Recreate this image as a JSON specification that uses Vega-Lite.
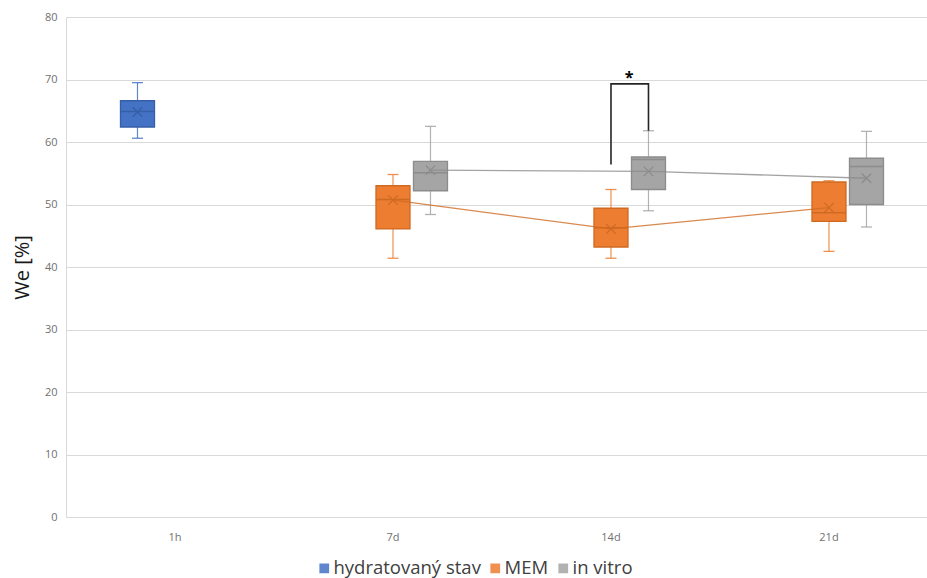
{
  "$schema": "https://vega.github.io/schema/vega-lite/v6.json",
  "width": 861,
  "height": 500,
  "autosize": {"type": "none"},
  "padding": {"left": 66, "top": 17, "right": 0, "bottom": 61},
  "background": "white",
  "config": {
    "font": "Open Sans",
    "view": {"stroke": null},
    "axis": {"ticks": false, "domainColor": "#d9d9d9", "gridColor": "#d9d9d9", "labelColor": "#707070", "labelFontSize": 11}
  },
  "datasets": {
    "boxes": [
      {"cat": "1h", "series": "hydratovaný stav", "min": 60.6, "q1": 62.4, "median": 64.9, "q3": 66.6, "max": 69.5, "mean": 64.8},
      {"cat": "7d", "series": "MEM", "min": 41.4, "q1": 46.1, "median": 50.8, "q3": 53.0, "max": 54.8, "mean": 50.7},
      {"cat": "7d", "series": "in vitro", "min": 48.4, "q1": 52.2, "median": 55.1, "q3": 56.9, "max": 62.5, "mean": 55.5},
      {"cat": "14d", "series": "MEM", "min": 41.4, "q1": 43.2, "median": 46.3, "q3": 49.4, "max": 52.4, "mean": 46.1},
      {"cat": "14d", "series": "in vitro", "min": 49.0, "q1": 52.4, "median": 57.2, "q3": 57.6, "max": 61.8, "mean": 55.3},
      {"cat": "21d", "series": "MEM", "min": 42.5, "q1": 47.3, "median": 48.7, "q3": 53.6, "max": 53.8, "mean": 49.5},
      {"cat": "21d", "series": "in vitro", "min": 46.4, "q1": 50.0, "median": 56.1, "q3": 57.4, "max": 61.7, "mean": 54.2}
    ],
    "bracket": [
      {"cat": "14d", "series": "MEM", "v": 56.4, "step": 1},
      {"cat": "14d", "series": "MEM", "v": 69.3, "step": 2},
      {"cat": "14d", "series": "in vitro", "v": 69.3, "step": 3},
      {"cat": "14d", "series": "in vitro", "v": 61.8, "step": 4}
    ],
    "star": [
      {"cat": "14d", "series": "MEM", "v": 70.3, "label": "*"}
    ]
  },
  "encoding": {
    "x": {
      "field": "cat", "type": "nominal",
      "scale": {"domain": ["1h", "7d", "14d", "21d"], "paddingInner": 0.5, "paddingOuter": 0.22477, "align": 0.556, "round": false},
      "axis": {"title": null, "labelAngle": 0, "labelPadding": 14, "labelColor": "#707070", "domain": true, "grid": false}
    },
    "xOffset": {
      "field": "series", "type": "nominal",
      "scale": {"domain": ["hydratovaný stav", "MEM", "in vitro"], "paddingInner": 0.093, "paddingOuter": 0}
    }
  },
  "layer": [
    {
      "data": {"name": "boxes"},
      "mark": {"type": "rule", "strokeWidth": 1.2, "opacity": 0.85},
      "encoding": {
        "y": {
          "field": "min", "type": "quantitative",
          "scale": {"domain": [0, 80]},
          "axis": {"title": "We [%]", "values": [0, 10, 20, 30, 40, 50, 60, 70, 80], "labelPadding": 9, "labelColor": "#707070", "titleFontSize": 20, "titleFontWeight": "normal", "titleColor": "#1a1a1a", "titlePadding": 12, "domain": true}
        },
        "y2": {"field": "max"},
        "color": {"field": "series", "type": "nominal"}
      }
    },
    {
      "data": {"name": "boxes"},
      "mark": {"type": "tick", "size": 11, "thickness": 1.3, "opacity": 0.85},
      "encoding": {
        "y": {"field": "max", "type": "quantitative"},
        "color": {"field": "series", "type": "nominal"}
      }
    },
    {
      "data": {"name": "boxes"},
      "mark": {"type": "tick", "size": 11, "thickness": 1.3, "opacity": 0.85},
      "encoding": {
        "y": {"field": "min", "type": "quantitative"},
        "color": {"field": "series", "type": "nominal"}
      }
    },
    {
      "data": {"name": "boxes"},
      "mark": {"type": "bar", "strokeWidth": 1.3},
      "encoding": {
        "y": {"field": "q1", "type": "quantitative"},
        "y2": {"field": "q3"},
        "color": {
          "field": "series", "type": "nominal",
          "scale": {"domain": ["hydratovaný stav", "MEM", "in vitro"], "range": ["#4472c4", "#ed7d31", "#a5a5a5"]},
          "legend": {
            "title": null, "orient": "none", "direction": "horizontal",
            "legendX": 249, "legendY": 542, "padding": 0,
            "symbolType": "square", "symbolSize": 95, "symbolStrokeWidth": 0, "symbolOpacity": 1,
            "labelFontSize": 18.5, "labelColor": "#404040", "labelOffset": 0,
            "columnPadding": 5, "labelLimit": 300
          }
        },
        "stroke": {"field": "series", "type": "nominal", "scale": {"domain": ["in vitro", "MEM", "hydratovaný stav"], "range": ["#8c8c8c", "#cf6a22", "#365fa8"]}, "legend": null}
      }
    },
    {
      "data": {"name": "boxes"},
      "mark": {"type": "bar", "strokeWidth": 1.5, "fillOpacity": 0},
      "encoding": {
        "y": {"field": "median", "type": "quantitative"},
        "y2": {"field": "median"},
        "stroke": {"field": "series", "type": "nominal", "legend": null}
      }
    },
    {
      "data": {"name": "boxes"},
      "transform": [{"filter": "datum.series !== 'hydratovaný stav'"}],
      "mark": {"type": "line", "strokeWidth": 1.3, "opacity": 0.8},
      "encoding": {
        "y": {"field": "mean", "type": "quantitative"},
        "stroke": {"field": "series", "type": "nominal", "legend": null}
      }
    },
    {
      "data": {"name": "boxes"},
      "mark": {"type": "point", "shape": "M-1,-1L1,1M-1,1L1,-1", "size": 90, "strokeWidth": 1.3, "filled": false, "opacity": 1},
      "encoding": {
        "y": {"field": "mean", "type": "quantitative"},
        "stroke": {"field": "series", "type": "nominal", "legend": null}
      }
    },
    {
      "data": {"name": "bracket"},
      "mark": {"type": "line", "color": "#262626", "strokeWidth": 1.6, "interpolate": "linear"},
      "encoding": {
        "y": {"field": "v", "type": "quantitative"},
        "order": {"field": "step", "type": "quantitative"}
      }
    },
    {
      "data": {"name": "star"},
      "mark": {"type": "text", "dx": 18, "fontSize": 16, "fontWeight": "bold", "color": "#000000", "baseline": "middle"},
      "encoding": {
        "y": {"field": "v", "type": "quantitative"},
        "text": {"field": "label"}
      }
    }
  ]
}
